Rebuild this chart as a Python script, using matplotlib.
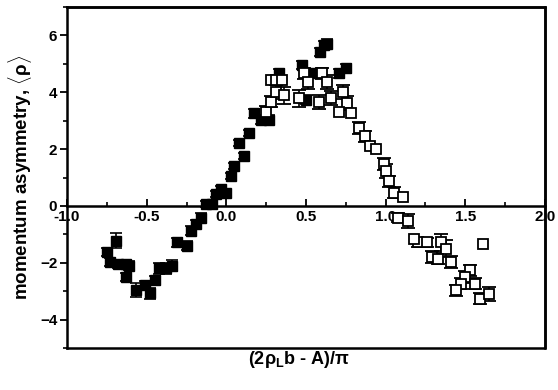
import matplotlib
matplotlib.use("Agg")
import matplotlib.pyplot as plt
from matplotlib.ticker import MultipleLocator

plt.rcParams['font.family'] = ['Liberation Sans', 'DejaVu Sans']
plt.rcParams['mathtext.fontset'] = 'custom'
plt.rcParams['mathtext.rm'] = 'Liberation Sans:bold'
plt.rcParams['mathtext.it'] = 'Liberation Sans:bold'

# filled squares
filled_x = [-0.75, -0.69, -0.73, -0.68, -0.63, -0.61, -0.63, -0.565, -0.51, -0.48,
            -0.45, -0.42, -0.38, -0.34, -0.31, -0.25, -0.22, -0.19, -0.16, -0.127,
            -0.09, -0.065, -0.033, 0.0, 0.03, 0.05, 0.11, 0.08, 0.14, 0.175,
            0.22, 0.27, 0.33, 0.475, 0.5, 0.59, 0.61, 0.63, 0.55, 0.706, 0.75]
filled_y = [-1.63, -1.22, -1.98, -2.04, -2.04, -2.1, -2.5, -2.97, -2.8, -3.08,
            -2.62, -2.2, -2.2, -2.1, -1.28, -1.4, -0.87, -0.63, -0.41, 0.07,
            0.07, 0.41, 0.59, 0.47, 1.05, 1.4, 1.75, 2.21, 2.56, 3.26,
            3.04, 3.04, 4.66, 4.96, 3.74, 5.42, 5.66, 5.71, 4.66, 4.66, 4.84]
filled_err = [0.15, 0.25, 0.15, 0.15, 0.15, 0.15, 0.15, 0.25, 0.15, 0.2,
              0.15, 0.2, 0.2, 0.2, 0.15, 0.15, 0.15, 0.15, 0.15, 0.1,
              0.1, 0.1, 0.1, 0.1, 0.1, 0.1, 0.1, 0.1, 0.1, 0.15,
              0.15, 0.15, 0.15, 0.15, 0.15, 0.15, 0.15, 0.15, 0.15, 0.15, 0.15]

# open squares
open_x = [0.25, 0.28, 0.31, 0.36, 0.456, 0.49, 0.51, 0.6, 0.63, 0.58,
          0.66, 0.73, 0.76, 0.83, 0.87, 0.99, 1.0, 1.02, 1.05, 1.08,
          1.14, 1.2, 1.26, 1.35, 1.38, 1.29, 1.33, 1.41, 1.53, 1.5,
          1.475, 1.56, 1.44, 1.59, 1.65]
open_y = [3.32, 3.67, 4.02, 3.9, 3.79, 4.66, 4.37, 4.66, 4.37, 3.67,
          3.79, 4.02, 3.61, 2.74, 2.45, 1.47, 1.22, 0.87, 0.47, -0.41,
          -0.52, -1.28, -1.28, -1.28, -1.51, -1.8, -1.86, -1.98, -2.27, -2.5,
          -2.74, -2.74, -2.97, -3.26, -3.09]
open_err = [0.2, 0.2, 0.25, 0.3, 0.3, 0.2, 0.25, 0.2, 0.25, 0.25,
            0.25, 0.25, 0.25, 0.2, 0.2, 0.2, 0.25, 0.2, 0.2, 0.15,
            0.25, 0.15, 0.15, 0.3, 0.3, 0.2, 0.2, 0.2, 0.2, 0.2,
            0.2, 0.2, 0.2, 0.2, 0.25]

# open squares with error bars inside the marker
cross_x = [0.28, 0.31, 0.35, 0.706, 0.78, 0.9, 0.94, 1.11, 1.175, 1.61]
cross_y = [4.44, 4.44, 4.44, 3.32, 3.26, 2.1, 1.99, 0.32, -1.16, -1.34]
cross_err = [0.1, 0.1, 0.1, 0.1, 0.1, 0.1, 0.1, 0.1, 0.1, 0.1]

fig = plt.figure(figsize=(5.58, 3.9), dpi=100)
ax = fig.add_axes([67 / 558, 1 - 348 / 390, 478 / 558, 341 / 390])

ax.errorbar(filled_x, filled_y, yerr=filled_err, fmt='s', color='black',
            ms=7.5, capsize=4, elinewidth=1.2, capthick=1.2)
ax.errorbar(open_x, open_y, yerr=open_err, fmt='s', color='black', mfc='white',
            mec='black', mew=1.3, ms=7.5, capsize=5, elinewidth=1.2, capthick=1.2)
ax.errorbar(cross_x, cross_y, yerr=cross_err, fmt='s', color='black', mfc='white',
            mec='black', mew=1.3, ms=6.5, capsize=3, elinewidth=1.2, capthick=1.2)

ax.set_xlim(-1.0, 2.0)
ax.set_ylim(-5, 7)

ax.spines['bottom'].set_position(('data', 0))
for s in ax.spines.values():
    s.set_linewidth(1.8)
    s.set_color('black')
# outer frame: bottom, right, top
frame_x = [0, 1, 1, 0]
frame_y = [0, 0, 1, 1]
ax.plot(frame_x, frame_y, transform=ax.transAxes, color='black', lw=1.8,
        clip_on=False, zorder=5)

ax.xaxis.set_major_locator(MultipleLocator(0.5))
ax.xaxis.set_minor_locator(MultipleLocator(0.25))
ax.yaxis.set_major_locator(MultipleLocator(2))
ax.yaxis.set_minor_locator(MultipleLocator(1))
ax.xaxis.set_major_formatter(plt.FuncFormatter(lambda v, p: f"{v:.1f}"))

ax.tick_params(axis='x', which='major', direction='in', length=5, width=1.3,
               pad=3, labelsize=11)
ax.tick_params(axis='x', which='minor', direction='in', length=3, width=1.2)
ax.tick_params(axis='y', which='major', direction='out', length=5, width=1.3,
               pad=2, labelsize=11)
ax.tick_params(axis='y', which='minor', direction='out', length=3, width=1.2)
for lab in ax.get_xticklabels() + ax.get_yticklabels():
    lab.set_fontweight('bold')

ax.set_ylabel(r'momentum asymmetry, $\langle\rho\rangle$', fontsize=13.5,
              fontweight='bold', labelpad=4)
fig.text(0.535, 1 - 359 / 390, r'(2$\rho_L$b - A)/$\pi$', fontsize=13,
         fontweight='bold', ha='center', va='center')

fig.savefig('out.png', dpi=100)
